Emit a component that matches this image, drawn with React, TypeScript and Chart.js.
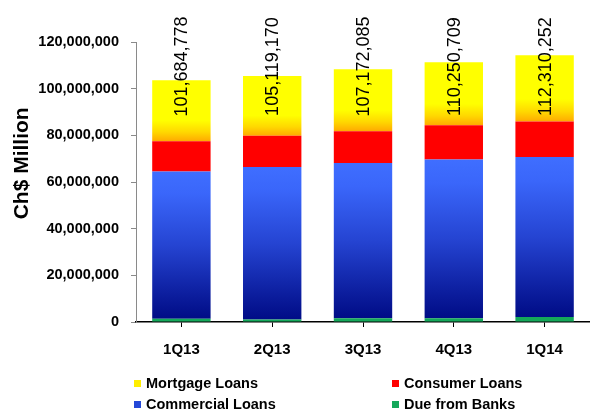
import React, { useEffect, useRef } from "react";
import { Chart, registerables } from "chart.js";

Chart.register(...registerables);

const quarters = ["1Q13", "2Q13", "3Q13", "4Q13", "1Q14"];
const dueFromBanks = [1400000, 1100000, 1600000, 1600000, 2100000];
const commercialLoans = [63100000, 65300000, 66500000, 68000000, 68600000];
const consumerLoans = [13000000, 13400000, 13700000, 14700000, 15200000];
const mortgageLoans = [26100000, 25600000, 26500000, 27000000, 28400000];
const totalLabels = ["101,684,778", "105,119,170", "107,172,085", "110,250,709", "112,310,252"];
const yTicks = [0, 20000000, 40000000, 60000000, 80000000, 100000000, 120000000];
const yTitle = "Ch$ Million";

const FONT = "'Liberation Sans', Arial, sans-serif";

const seriesOrder = [dueFromBanks, commercialLoans, consumerLoans, mortgageLoans];

function segmentGradient(
  ctx: any,
  seriesIdx: number,
  stops: [number, string][],
  fallback: string
) {
  const chart = ctx.chart;
  if (!chart.chartArea || ctx.dataIndex === undefined) return fallback;
  const i = ctx.dataIndex;
  let base = 0;
  for (let s = 0; s < seriesIdx; s++) base += seriesOrder[s][i];
  const top = base + seriesOrder[seriesIdx][i];
  const y = chart.scales.y;
  const y0 = y.getPixelForValue(top);
  const y1 = y.getPixelForValue(base);
  if (!isFinite(y0) || !isFinite(y1) || y0 === y1) return fallback;
  const g = chart.ctx.createLinearGradient(0, y0, 0, y1);
  stops.forEach(([o, c]) => g.addColorStop(o, c));
  return g;
}

const overlayPlugin = {
  id: "overlayText",
  afterDatasetsDraw(chart: any) {
    const { ctx, scales } = chart;
    const x = scales.x;
    const y = scales.y;
    ctx.save();
    ctx.fillStyle = "#000";
    ctx.font = `18px ${FONT}`;
    ctx.textAlign = "center";
    ctx.textBaseline = "middle";
    const cy = y.getPixelForValue(109500000);
    totalLabels.forEach((t, i) => {
      const cx = x.getPixelForValue(i);
      ctx.save();
      ctx.translate(cx, cy);
      ctx.rotate(-Math.PI / 2);
      ctx.fillText(t, 0, 1);
      ctx.restore();
    });
    // y axis title
    ctx.font = `bold 21px ${FONT}`;
    ctx.save();
    ctx.translate(22, y.getPixelForValue(68000000));
    ctx.rotate(-Math.PI / 2);
    ctx.fillText(yTitle, 0, 0);
    ctx.restore();
    ctx.restore();
  },
};

const legendItems = [
  { label: "Mortgage Loans", color: "#ffee00", left: 134, top: 374 },
  { label: "Consumer Loans", color: "#ff0000", left: 392, top: 374 },
  { label: "Commercial Loans", color: "#2448d8", left: 134, top: 395 },
  { label: "Due from Banks", color: "#14a85a", left: 392, top: 395 },
];

export default function App() {
  const canvasRef = useRef<HTMLCanvasElement | null>(null);

  useEffect(() => {
    const canvas = canvasRef.current;
    if (!canvas) return;
    const chart = new Chart(canvas, {
      type: "bar",
      data: {
        labels: quarters,
        datasets: [
          {
            label: "Due from Banks",
            data: dueFromBanks,
            backgroundColor: "#14a85a",
            borderWidth: 0,
          },
          {
            label: "Commercial Loans",
            data: commercialLoans,
            backgroundColor: (c: any) =>
              segmentGradient(
                c,
                1,
                [
                  [0, "#3f6eff"],
                  [0.15, "#3a66fa"],
                  [0.5, "#2544d2"],
                  [0.85, "#0b1c9c"],
                  [1, "#000c86"],
                ],
                "#2448d8"
              ),
            borderWidth: 0,
          },
          {
            label: "Consumer Loans",
            data: consumerLoans,
            backgroundColor: "#ff0000",
            borderWidth: 0,
          },
          {
            label: "Mortgage Loans",
            data: mortgageLoans,
            backgroundColor: (c: any) =>
              segmentGradient(
                c,
                3,
                [
                  [0, "#ffff00"],
                  [0.66, "#ffff00"],
                  [0.85, "#ffd800"],
                  [1, "#ffaa00"],
                ],
                "#ffee00"
              ),
            borderWidth: 0,
          },
        ],
      },
      options: {
        responsive: false,
        maintainAspectRatio: false,
        animation: false,
        layout: { padding: { top: 42, right: 0, bottom: 51, left: 0 } },
        plugins: {
          legend: { display: false },
          tooltip: { enabled: false },
        },
        datasets: {
          bar: { categoryPercentage: 1, barPercentage: 0.643 },
        },
        scales: {
          x: {
            stacked: true,
            grid: {
              display: true,
              drawOnChartArea: false,
              drawTicks: true,
              tickLength: 5,
              color: "#000",
              offset: false,
            },
            border: { display: true, color: "#000", width: 1.5 },
            ticks: {
              color: "#000",
              font: { family: FONT, size: 15, weight: "bold" },
              padding: 14,
            },
            afterFit: (scale: any) => {
              scale.height = 40;
            },
          },
          y: {
            stacked: true,
            min: 0,
            max: 120000000,
            afterBuildTicks: (scale: any) => {
              scale.ticks = yTicks.map((v) => ({ value: v }));
            },
            grid: {
              display: true,
              drawOnChartArea: false,
              drawTicks: true,
              tickLength: 5,
              color: "#8a8a8a",
            },
            border: { display: true, color: "#8a8a8a", width: 1 },
            ticks: {
              color: "#000",
              font: { family: FONT, size: 14.5, weight: "bold" },
              padding: 12,
              callback: (v: any) => Number(v).toLocaleString("en-US"),
            },
            afterFit: (scale: any) => {
              scale.width = 136;
            },
          },
        },
      },
      plugins: [overlayPlugin],
    });
    return () => chart.destroy();
  }, []);

  return (
    <div
      style={{
        position: "fixed",
        left: 0,
        top: 0,
        width: 590,
        height: 413,
        background: "#fff",
        overflow: "hidden",
      }}
    >
      <canvas ref={canvasRef} width={590} height={413} style={{ display: "block" }} />
      {legendItems.map((it) => (
        <div
          key={it.label}
          style={{
            position: "absolute",
            left: it.left,
            top: it.top,
            height: 18,
            display: "flex",
            alignItems: "center",
            fontFamily: FONT,
            fontWeight: "bold",
            fontSize: 14.5,
            color: "#000",
            whiteSpace: "nowrap",
          }}
        >
          <span
            style={{
              display: "inline-block",
              width: 7,
              height: 7,
              background: it.color,
              marginRight: 5,
            }}
          />
          <span>{it.label}</span>
        </div>
      ))}
    </div>
  );
}
